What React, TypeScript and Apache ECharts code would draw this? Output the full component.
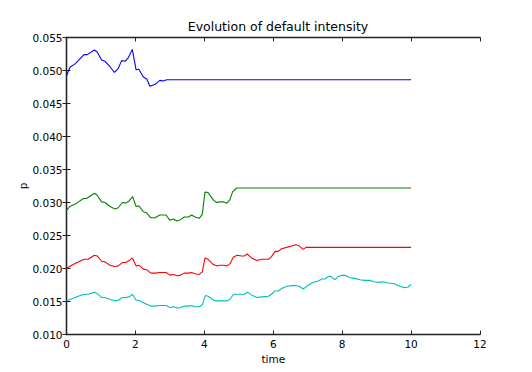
import React, { useEffect, useRef } from "react";
import * as echarts from "echarts";

const title = "Evolution of default intensity";
const xName = "time";
const yName = "p";
const xTicks = { min: 0, max: 12, interval: 2 };
const yTicks = { min: 0.01, max: 0.055, interval: 0.005 };

const blue: [number, number][] = [
  [0, 0.0492], [0.1, 0.0505], [0.25, 0.051], [0.34, 0.0515], [0.51, 0.0524], [0.6, 0.0524],
  [0.81, 0.0531], [0.89, 0.0528], [1.02, 0.0516], [1.12, 0.0514], [1.26, 0.0506], [1.39, 0.0497],
  [1.5, 0.0503], [1.6, 0.0515], [1.7, 0.0514], [1.79, 0.0519], [1.91, 0.0532], [2.02, 0.0501],
  [2.1, 0.0502], [2.23, 0.049], [2.33, 0.0487], [2.42, 0.0476], [2.57, 0.0479], [2.71, 0.0485],
  [2.81, 0.0484], [2.91, 0.0486], [10, 0.0486],
];

const green: [number, number][] = [
  [0, 0.0288], [0.1, 0.0294], [0.3, 0.0299], [0.49, 0.0306], [0.58, 0.0306], [0.81, 0.0314],
  [0.89, 0.0311], [1.02, 0.0301], [1.12, 0.03], [1.26, 0.0294], [1.41, 0.029], [1.5, 0.0292],
  [1.62, 0.03], [1.72, 0.0299], [1.81, 0.0302], [1.92, 0.0309], [2.02, 0.0294], [2.1, 0.0295],
  [2.23, 0.0286], [2.33, 0.0284], [2.44, 0.0277], [2.57, 0.0277], [2.71, 0.0281], [2.89, 0.0281],
  [3.0, 0.0273], [3.1, 0.0275], [3.2, 0.0272], [3.31, 0.0274], [3.42, 0.0278], [3.54, 0.0278],
  [3.63, 0.0281], [3.73, 0.0278], [3.85, 0.0276], [3.94, 0.0282], [4.02, 0.0316], [4.11, 0.0315],
  [4.26, 0.0304], [4.36, 0.03], [4.45, 0.0301], [4.55, 0.0301], [4.65, 0.0299], [4.74, 0.0304],
  [4.82, 0.0316], [4.94, 0.0322], [10, 0.0322],
];

const red: [number, number][] = [
  [0, 0.02], [0.15, 0.0205], [0.34, 0.021], [0.51, 0.0214], [0.63, 0.0214], [0.81, 0.022],
  [0.89, 0.0219], [1.02, 0.0211], [1.12, 0.021], [1.26, 0.0205], [1.41, 0.0203], [1.5, 0.0204],
  [1.62, 0.0209], [1.72, 0.0209], [1.82, 0.0212], [1.91, 0.0216], [2.02, 0.0204], [2.1, 0.0205],
  [2.23, 0.0199], [2.33, 0.0198], [2.45, 0.0193], [2.57, 0.0193], [2.71, 0.0194], [2.89, 0.0194],
  [3.0, 0.019], [3.1, 0.0191], [3.22, 0.0189], [3.31, 0.019], [3.42, 0.0193], [3.54, 0.0193],
  [3.63, 0.0194], [3.73, 0.0192], [3.85, 0.0191], [3.94, 0.0195], [4.02, 0.0216], [4.11, 0.0214],
  [4.26, 0.0206], [4.36, 0.0204], [4.45, 0.0205], [4.55, 0.0205], [4.65, 0.0204], [4.74, 0.0207],
  [4.84, 0.0217], [4.95, 0.022], [5.08, 0.0219], [5.16, 0.0219], [5.24, 0.0222], [5.37, 0.0216],
  [5.52, 0.0212], [5.66, 0.0214], [5.76, 0.0214], [5.86, 0.0214], [5.95, 0.0218], [6.05, 0.0226],
  [6.14, 0.0226], [6.24, 0.023], [6.39, 0.0232], [6.53, 0.0234], [6.66, 0.0236], [6.76, 0.0234],
  [6.87, 0.0229], [6.95, 0.0232], [10, 0.0232],
];

const cyan: [number, number][] = [
  [0, 0.0151], [0.2, 0.0155], [0.34, 0.0158], [0.51, 0.0161], [0.63, 0.0161], [0.81, 0.0164],
  [0.89, 0.0162], [1.02, 0.0156], [1.12, 0.0156], [1.26, 0.0153], [1.41, 0.0151], [1.5, 0.0152],
  [1.62, 0.0156], [1.72, 0.0156], [1.82, 0.0157], [1.91, 0.0161], [2.02, 0.0152], [2.1, 0.0152],
  [2.23, 0.0148], [2.33, 0.0146], [2.45, 0.0143], [2.57, 0.0143], [2.71, 0.0144], [2.89, 0.0144],
  [3.0, 0.0141], [3.1, 0.0142], [3.22, 0.014], [3.31, 0.0141], [3.42, 0.0143], [3.54, 0.0143],
  [3.63, 0.0144], [3.73, 0.0142], [3.85, 0.0142], [3.94, 0.0145], [4.03, 0.0159], [4.11, 0.0158],
  [4.28, 0.0152], [4.36, 0.0151], [4.55, 0.0151], [4.65, 0.0151], [4.74, 0.0153], [4.85, 0.0161],
  [4.95, 0.0161], [5.08, 0.0161], [5.16, 0.0161], [5.25, 0.0164], [5.37, 0.016], [5.52, 0.0156],
  [5.66, 0.0157], [5.86, 0.0158], [5.95, 0.0161], [6.05, 0.0166], [6.14, 0.0166], [6.26, 0.017],
  [6.4, 0.0173], [6.55, 0.0174], [6.67, 0.0174], [6.75, 0.0173], [6.87, 0.0169], [6.97, 0.0173],
  [7.12, 0.0178], [7.22, 0.018], [7.31, 0.0181], [7.41, 0.0184], [7.5, 0.0184], [7.6, 0.0188],
  [7.67, 0.0188], [7.79, 0.0183], [7.89, 0.0188], [8.02, 0.019], [8.12, 0.0189], [8.21, 0.0186],
  [8.36, 0.0185], [8.51, 0.0183], [8.65, 0.0182], [8.8, 0.0182], [8.92, 0.018], [9.07, 0.0179],
  [9.18, 0.018], [9.33, 0.0178], [9.52, 0.0177], [9.67, 0.0173], [9.81, 0.0171], [9.92, 0.0172],
  [10.0, 0.0176],
];

const seriesList = [
  { name: "b", data: blue, color: "#0000ff" },
  { name: "g", data: green, color: "#008000" },
  { name: "r", data: red, color: "#ff0000" },
  { name: "c", data: cyan, color: "#00bfbf" },
];

const FONT = "DejaVu Sans";

export default function App() {
  const ref = useRef<HTMLDivElement>(null);
  useEffect(() => {
    if (!ref.current) return;
    const chart = echarts.init(ref.current, null, { renderer: "svg" });
    const axisLine = { show: true, lineStyle: { color: "#222", width: 1.3 } };
    const tick = { show: true, inside: true, length: 4, lineStyle: { color: "#222", width: 1 } };
    const label = { color: "#000", fontFamily: FONT, fontSize: 10.5 };
    chart.setOption({
      animation: false,
      backgroundColor: "#fff",
      title: {
        text: title,
        left: 273,
        top: 15,
        textAlign: "center",
        textStyle: { fontFamily: FONT, fontSize: 12.5, fontWeight: "normal", color: "#000" },
      },
      grid: { left: 66.5, right: 52, top: 37.5, bottom: 37.5, containLabel: false },
      xAxis: [
        {
          type: "value", position: "bottom", ...xTicks,
          axisLine, axisTick: tick, splitLine: { show: false },
          axisLabel: { ...label, margin: 4 },
          name: xName, nameLocation: "middle", nameGap: 19,
          nameMoveOverlap: false,
          nameTextStyle: { ...label },
        },
        {
          type: "value", position: "top", ...xTicks,
          axisLine, axisTick: tick, splitLine: { show: false },
          axisLabel: { show: false },
        },
      ],
      yAxis: [
        {
          type: "value", position: "left", ...yTicks,
          axisLine, axisTick: tick, splitLine: { show: false },
          axisLabel: { ...label, margin: 4, formatter: (v: number) => v.toFixed(3) },
          name: yName, nameLocation: "middle", nameGap: 38,
          nameMoveOverlap: false,
          nameTextStyle: { ...label },
        },
        {
          type: "value", position: "right", ...yTicks,
          axisLine, axisTick: tick, splitLine: { show: false },
          axisLabel: { show: false },
        },
      ],
      series: seriesList.map((s) => ({
        name: s.name,
        type: "line",
        data: s.data,
        xAxisIndex: 0,
        yAxisIndex: 0,
        showSymbol: false,
        symbol: "none",
        lineStyle: { color: s.color, width: 1.1 },
        itemStyle: { color: s.color },
      })),
    });
    return () => chart.dispose();
  }, []);
  return (
    <div
      ref={ref}
      style={{ position: "absolute", left: 0, top: 0, width: 532, height: 372, background: "#fff" }}
    />
  );
}
